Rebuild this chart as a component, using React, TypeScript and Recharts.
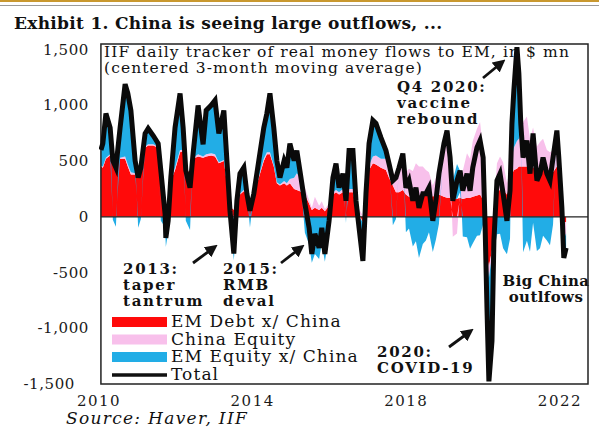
import React from 'react';
import { ComposedChart, Area, Line, XAxis, YAxis, ReferenceLine, ReferenceArea } from 'recharts';

// IIF daily tracker, centered 3-month moving average, $ mn
const years = [
  2010.05, 2010.10, 2010.18, 2010.29, 2010.36, 2010.44, 2010.55, 2010.68, 2010.75, 2010.83,
  2010.94, 2011.02, 2011.09, 2011.20, 2011.28, 2011.41, 2011.54, 2011.61, 2011.72, 2011.74,
  2011.80, 2011.87, 2011.98, 2012.11, 2012.19, 2012.26, 2012.37, 2012.45, 2012.58, 2012.71,
  2012.79, 2012.92, 2013.02, 2013.12, 2013.25, 2013.33, 2013.41, 2013.51, 2013.59, 2013.67,
  2013.77, 2013.85, 2013.93, 2014.03, 2014.16, 2014.29, 2014.37, 2014.45, 2014.55, 2014.63,
  2014.71, 2014.82, 2014.89, 2014.97, 2015.08, 2015.15, 2015.23, 2015.36, 2015.47, 2015.54,
  2015.62, 2015.73, 2015.80, 2015.88, 2015.99, 2016.09, 2016.17, 2016.25, 2016.35, 2016.43,
  2016.51, 2016.61, 2016.69, 2016.77, 2016.87, 2016.95, 2017.03, 2017.13, 2017.21, 2017.34,
  2017.47, 2017.55, 2017.65, 2017.73, 2017.81, 2017.91, 2017.99, 2018.07, 2018.17, 2018.25,
  2018.33, 2018.43, 2018.51, 2018.59, 2018.69, 2018.77, 2018.85, 2018.98, 2019.06, 2019.14,
  2019.21, 2019.32, 2019.40, 2019.47, 2019.58, 2019.66, 2019.73, 2019.84, 2019.92, 2020.00,
  2020.05, 2020.10, 2020.15, 2020.23, 2020.28, 2020.36, 2020.44, 2020.52, 2020.62, 2020.70,
  2020.75, 2020.80, 2020.88, 2020.93, 2020.98, 2021.04, 2021.14, 2021.22, 2021.30, 2021.40,
  2021.48, 2021.56, 2021.66, 2021.74, 2021.82, 2021.92, 2021.97, 2022.05, 2022.10, 2022.16,
];

const emDebt = [
  450, 440, 520, 550, 520, 520, 520, 520, 450, 380,
  380, 450, 450, 620, 640, 640, 620, 450, 120, 80,
  100, 320, 420, 580, 590, 450, 380, 520, 540, 530,
  540, 550, 540, 480, 500, 300, 90, 60, 150, 200,
  230, 200, 150, 200, 350, 500, 560, 560, 450, 300,
  280, 300, 280, 300, 250, 240, 230, 200, 120, 60,
  80, 60, 80, 50, 100, 200, 220, 200, 220, 180,
  220, 220, 100, 30, -50, 150, 420, 480, 470, 440,
  420, 350, 280, 220, 220, 240, 200, 180, 160, 180,
  150, 200, 220, 250, 180, 200, 200, 180, 170, 170,
  170, 160, 170, 160, 170, 170, 180, 190, 200, 150,
  -100, -350, -450, -300, 50, 230, 240, 240, 200, 280,
  380, 420, 430, 450, 450, 450, 450, 400, 450, 380,
  420, 450, 400, 380, 400, 450, 350, 100, -50, -50,
];

const chinaEquity = [
  10, 10, 10, 10, 10, 10, 10, 20, 20, 20,
  10, 0, 10, 10, 10, 10, 10, 0, 0, -10,
  0, 10, 20, 20, 10, 0, 0, 10, 20, 10,
  20, 20, 20, 10, 10, 0, 0, -10, 0, 10,
  10, 0, 0, 0, 10, 20, 20, 20, 10, 10,
  10, 20, 20, 40, 100, 150, 120, 60, 30, 20,
  100, 40, 60, 20, 20, 20, 20, 20, 30, 20,
  30, 30, 20, 40, 10, 20, 40, 60, 80, 80,
  100, 100, 120, 150, 220, 280, 200, 250, 250, 300,
  300, 250, 200, 150, 100, 150, 250, 450, 500, 300,
  -180, -150, 50, 250, 400, 350, 500, 600, 650, 450,
  50, -50, -100, -50, 50, 250, 300, 250, 100, 150,
  150, 200, 250, 250, 300, 400, 450, 300, 350, 250,
  250, 250, 200, 200, 200, 250, 150, 50, -150, -100,
];

const emEquity = [
  140, 207, 397, 240, -26, -89, 270, 650, 637, 554,
  114, -99, -19, 117, 142, 79, 27, -36, -93, -260,
  -136, 21, 360, 507, 200, -36, -119, 37, 439, 110,
  394, 430, 484, 257, 444, 204, -36, -380, -6, 177,
  201, 7, -96, 7, 144, 280, 347, 527, 340, 194,
  61, 184, 141, 317, 154, 204, 64, -143, -249, -413,
  -333, -379, -239, -403, -156, 131, 237, 41, 137, -56,
  344, 344, 24, -169, -356, 37, 197, 324, 287, 191,
  74, 27, -76, -19, 1, 47, -139, -106, -266, -219,
  -369, -243, -213, -139, -316, -206, -63, 27, 104, 61,
  154, 314, 194, -176, -183, -286, -239, -169, -166, -69,
  -13, -419, -926, -766, -316, -156, -153, -283, -336, -196,
  307, 514, 841, 587, 87, -319, -216, -313, -53, -306,
  -283, -169, -213, -256, -69, 74, 31, -69, -169, -129,
];

const total = [
  600, 657, 927, 800, 504, 441, 800, 1190, 1107, 954,
  504, 351, 441, 747, 792, 729, 657, 414, 27, -190,
  -36, 351, 800, 1107, 800, 414, 261, 567, 999, 650,
  954, 1000, 1044, 747, 954, 504, 54, -330, 144, 387,
  441, 207, 54, 207, 504, 800, 927, 1107, 800, 504,
  351, 504, 441, 657, 504, 594, 414, 117, -99, -333,
  -153, -279, -99, -333, -36, 351, 477, 261, 387, 144,
  594, 594, 144, -99, -396, 207, 657, 864, 837, 711,
  594, 477, 324, 351, 441, 567, 261, 324, 144, 261,
  81, 207, 207, 261, -36, 144, 387, 657, 774, 531,
  144, 324, 414, 234, 387, 234, 441, 621, 684, 531,
  -63, -819, -1476, -1116, -216, 324, 387, 207, -36, 234,
  837, 1134, 1521, 1287, 837, 531, 684, 387, 747, 324,
  387, 531, 387, 324, 531, 774, 531, 81, -369, -279,
];

const yTicks = [-1500, -1000, -500, 0, 500, 1000, 1500];
const xTicks = [2010, 2014, 2018, 2022];

const data = years.map((t, i) => ({
  t,
  emDebt: emDebt[i],
  chinaEquity: chinaEquity[i],
  emEquity: emEquity[i],
  total: total[i],
}));

const FONT = '"DejaVu Serif", Georgia, serif';
const RED = '#ff0a0a';
const PINK = '#f8c0eb';
const BLUE = '#22ade6';

const YTick = (props: any) => {
  const { x, y, payload } = props;
  const shift = payload.value === -1500 ? 14 : 0;
  return (
    <text x={x - shift} y={y} dy={5} textAnchor="end" fontFamily={FONT} fontSize={15} letterSpacing={0.6} fill="#1a1a1a">
      {payload.value.toLocaleString('en-US')}
    </text>
  );
};

const XTick = (props: any) => {
  const { x, y, payload } = props;
  return (
    <text x={x} y={y} dy={20} textAnchor="middle" fontFamily={FONT} fontSize={15} letterSpacing={1.5} fill="#1a1a1a">
      {payload.value}
    </text>
  );
};

const Arrow = ({ x1, y1, x2, y2 }: { x1: number; y1: number; x2: number; y2: number }) => (
  <line x1={x1} y1={y1} x2={x2} y2={y2} stroke="#111" strokeWidth={2.8} markerEnd="url(#head)" />
);

const legendItems = [
  { label: 'EM Debt x/ China', color: RED },
  { label: 'China Equity', color: PINK },
  { label: 'EM Equity x/ China', color: BLUE },
];

const Notes = () => (
  <svg width={599} height={428} style={{ position: 'absolute', left: 0, top: 0 }}>
    <defs>
      <marker id="head" markerWidth="4.5" markerHeight="4.5" refX="2" refY="2.25" orient="auto">
        <path d="M0,0 L4.5,2.25 L0,4.5 z" fill="#111" />
      </marker>
    </defs>
    <rect x={0} y={0} width={599} height={2} fill="#c9982f" />
    <line x1={0} x2={599} y1={5.5} y2={5.5} stroke="#9b9b9b" strokeWidth={1} />
    <g fontFamily={FONT} fill="#111">
      <text x={14} y={29} fontSize={17} fontWeight="bold" letterSpacing={0.3}>
        Exhibit 1. China is seeing large outflows, ...
      </text>
      <text x={104} y={57} fontSize={15.5} letterSpacing={1.1}>IIF daily tracker of real money flows to EM, in $ mn</text>
      <text x={104} y={73} fontSize={15.5} letterSpacing={1.1}>(centered 3-month moving average)</text>

      <g fontSize={15} fontWeight="bold" letterSpacing={1.7}>
        <text x={397} y={92}>Q4 2020:</text>
        <text x={397} y={108}>vaccine</text>
        <text x={397} y={124}>rebound</text>
        <text x={123} y={274}>2013:</text>
        <text x={123} y={290}>taper</text>
        <text x={123} y={306}>tantrum</text>
        <text x={223} y={274}>2015:</text>
        <text x={223} y={290}>RMB</text>
        <text x={223} y={306}>deval</text>
        <text x={377} y={357}>2020:</text>
        <text x={377} y={373}>COVID-19</text>
      </g>
      <g fontSize={15} fontWeight="bold" letterSpacing={0.4}>
        <text x={546} y={286} textAnchor="middle">Big China</text>
        <text x={546} y={302} textAnchor="middle">outlfows</text>
      </g>

      {legendItems.map((item, i) => (
        <g key={item.label}>
          <rect x={112} y={317 + i * 17.5} width={55} height={10} fill={item.color} />
          <text x={171} y={327 + i * 17.5} fontSize={17} letterSpacing={1.1}>{item.label}</text>
        </g>
      ))}
      <line x1={112} x2={167} y1={375} y2={375} stroke="#111" strokeWidth={3.5} />
      <text x={171} y={380} fontSize={17} letterSpacing={1.1}>Total</text>

      <text x={66} y={424} fontSize={17} fontStyle="italic" letterSpacing={1.3}>Source: Haver, IIF</text>
    </g>
    <Arrow x1={483} y1={78} x2={500} y2={64} />
    <Arrow x1={193} y1={263} x2={212} y2={249} />
    <Arrow x1={281} y1={263} x2={299} y2={249} />
    <Arrow x1={449} y1={347} x2={468} y2={333} />
  </svg>
);

export default function App() {
  return (
    <div style={{ position: 'relative', width: 599, height: 428, background: '#fff' }}>
      <style>{'body{margin:0}'}</style>
      <Notes />
      <div style={{ position: 'absolute', left: 0, top: 0 }}>
        <ComposedChart
          width={599}
          height={428}
          data={data}
          stackOffset="sign"
          margin={{ top: 44, right: 11, bottom: 0, left: 0 }}
        >
          <XAxis
            dataKey="t"
            type="number"
            domain={[2010, 2022.73]}
            allowDataOverflow
            ticks={xTicks}
            interval={0}
            height={44}
            tickLine={false}
            axisLine={false}
            tickSize={0}
            tick={<XTick />}
          />
          <YAxis
            type="number"
            domain={[-1500, 1550]}
            allowDataOverflow
            ticks={yTicks}
            interval={0}
            width={99}
            tickLine={false}
            axisLine={false}
            tickSize={0}
            tickMargin={10}
            tick={<YTick />}
          />
          <Area type="linear" dataKey="emDebt" stackId="s" stroke="none" fill={RED} fillOpacity={1} isAnimationActive={false} />
          <Area type="linear" dataKey="chinaEquity" stackId="s" stroke="none" fill={PINK} fillOpacity={1} isAnimationActive={false} />
          <Area type="linear" dataKey="emEquity" stackId="s" stroke="none" fill={BLUE} fillOpacity={1} isAnimationActive={false} />
          <ReferenceLine
            segment={[{ x: 2010.05, y: 0 }, { x: 2022.73, y: 0 }]}
            stroke="#222"
            strokeWidth={1.2}
          />
          <Line type="linear" dataKey="total" stroke="#0a0a0a" strokeWidth={5} dot={false} isAnimationActive={false} />
          <ReferenceArea
            x1={2010.05}
            x2={2022.73}
            y1={-1500}
            y2={1550}
            fill="none"
            stroke="#222"
            strokeWidth={1.5}
            ifOverflow="visible"
          />
        </ComposedChart>
      </div>
    </div>
  );
}
